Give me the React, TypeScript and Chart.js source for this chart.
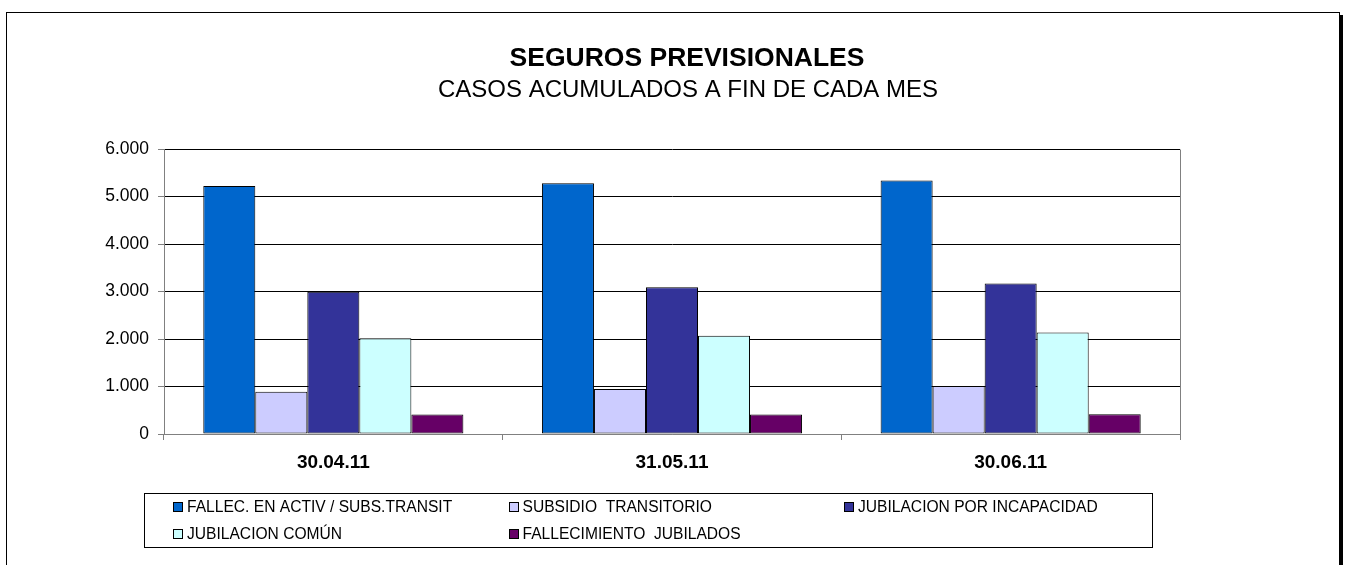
import React, { useEffect, useRef } from "react";
import { Chart, registerables } from "chart.js";

Chart.register(...registerables);

const FONT = '"Liberation Sans", Arial, Helvetica, sans-serif';

const TITLE = "SEGUROS PREVISIONALES";
const SUBTITLE = "CASOS ACUMULADOS A FIN DE CADA MES";

const categories = ["30.04.11", "31.05.11", "30.06.11"];

const seriesNames = [
  "FALLEC. EN ACTIV / SUBS.TRANSIT",
  "SUBSIDIO  TRANSITORIO",
  "JUBILACION POR INCAPACIDAD",
  "JUBILACION COMÚN",
  "FALLECIMIENTO  JUBILADOS",
];

const fallecActiv = [5220, 5280, 5335];
const subsidioTransitorio = [890, 950, 1010];
const jubilacionIncapacidad = [2995, 3090, 3170];
const jubilacionComun = [2015, 2070, 2135];
const fallecimientoJubilados = [412, 408, 414];

const seriesColors = ["#0066CC", "#CCCCFF", "#333399", "#CCFFFF", "#660066"];

const yTicks = [0, 1000, 2000, 3000, 4000, 5000, 6000];

const fmt = (v: number) => String(v).replace(/\B(?=(\d{3})+(?!\d))/g, ".");

const titlePlugin = {
  id: "customTitles",
  afterDraw(chart: any) {
    const ctx = chart.ctx;
    ctx.save();
    ctx.fillStyle = "#000";
    ctx.textAlign = "center";
    ctx.textBaseline = "alphabetic";
    ctx.font = `bold 26.5px ${FONT}`;
    ctx.fillText(TITLE, 687, 66);
    ctx.font = `24px ${FONT}`;
    ctx.fillText(SUBTITLE, 688, 97);
    ctx.restore();
  },
};

const plotBorderPlugin = {
  id: "plotBorder",
  beforeDatasetsDraw(chart: any) {
    const { ctx, chartArea } = chart;
    ctx.save();
    ctx.strokeStyle = "#808080";
    ctx.lineWidth = 1;
    ctx.beginPath();
    ctx.moveTo(Math.round(chartArea.right) + 0.5, Math.round(chartArea.top) + 0.5);
    ctx.lineTo(Math.round(chartArea.right) + 0.5, Math.round(chartArea.bottom) + 0.5);
    ctx.stroke();
    ctx.restore();
  },
};

const legendPlugin = {
  id: "gridLegend",
  afterDraw(chart: any) {
    const ctx = chart.ctx;
    const ds = chart.data.datasets;
    ctx.save();
    ctx.strokeStyle = "#000";
    ctx.lineWidth = 1;
    ctx.strokeRect(144.5, 493.5, 1008, 54);
    ctx.font = `15.6px ${FONT}`;
    ctx.textBaseline = "middle";
    ctx.textAlign = "left";
    ds.forEach((d: any, i: number) => {
      const col = i % 3;
      const row = Math.floor(i / 3);
      const sx = 173 + col * 335.5;
      const cy = 507 + row * 27;
      ctx.fillStyle = d.backgroundColor;
      ctx.fillRect(Math.round(sx), Math.round(cy - 5), 10, 10);
      ctx.strokeStyle = "#000";
      ctx.strokeRect(Math.round(sx) + 0.5, Math.round(cy - 5) + 0.5, 9, 9);
      ctx.fillStyle = "#000";
      ctx.fillText(d.label, sx + 14, cy + 1);
    });
    ctx.restore();
  },
};

export default function App() {
  const canvasRef = useRef<HTMLCanvasElement | null>(null);

  useEffect(() => {
    const canvas = canvasRef.current;
    if (!canvas) return;
    const values = [
      fallecActiv,
      subsidioTransitorio,
      jubilacionIncapacidad,
      jubilacionComun,
      fallecimientoJubilados,
    ];
    const chart = new Chart(canvas, {
      type: "bar",
      data: {
        labels: categories,
        datasets: values.map((v, i) => ({
          label: seriesNames[i],
          data: v,
          backgroundColor: seriesColors[i],
          borderColor: "#000",
          borderWidth: 1,
          borderSkipped: false,
          categoryPercentage: 0.768,
          barPercentage: 1,
        })),
      },
      options: {
        responsive: false,
        animation: false,
        devicePixelRatio: 1,
        layout: { padding: { top: 149, right: 166, left: 0, bottom: 0 } },
        plugins: {
          legend: { display: false },
          title: { display: false },
          tooltip: { enabled: false },
        },
        scales: {
          x: {
            offset: true,
            grid: {
              offset: true,
              drawOnChartArea: false,
              drawTicks: true,
              tickLength: 6,
              color: "#808080",
            },
            border: { color: "#808080" },
            ticks: {
              color: "#000",
              font: { family: FONT, size: 19, weight: "bold" },
              padding: 11,
              maxRotation: 0,
            },
            afterFit: (scale: any) => {
              scale.height = 131;
            },
          },
          y: {
            min: 0,
            max: 6000,
            afterBuildTicks: (scale: any) => {
              scale.ticks = yTicks.map((v) => ({ value: v }));
            },
            grid: {
              color: (c: any) => (c.tick && c.tick.value === 0 ? "#808080" : "#000"),
              tickColor: "#808080",
              tickLength: 6,
            },
            border: { color: "#808080" },
            ticks: {
              color: "#000",
              font: { family: FONT, size: 17.5 },
              padding: 9,
              callback: (v: any) => fmt(Number(v)),
            },
            afterFit: (scale: any) => {
              scale.width = 164;
            },
          },
        },
      },
      plugins: [plotBorderPlugin, titlePlugin, legendPlugin],
    });
    return () => chart.destroy();
  }, []);

  return (
    <div>
      <div
        style={{
          position: "absolute",
          left: 6,
          top: 12,
          width: 1332,
          height: 600,
          border: "1px solid #000",
          boxShadow: "3px 3px 0 #000",
          background: "#fff",
        }}
      />
      <canvas
        ref={canvasRef}
        width={1346}
        height={565}
        style={{ position: "absolute", left: 0, top: 0, width: 1346, height: 565 }}
      />
    </div>
  );
}
